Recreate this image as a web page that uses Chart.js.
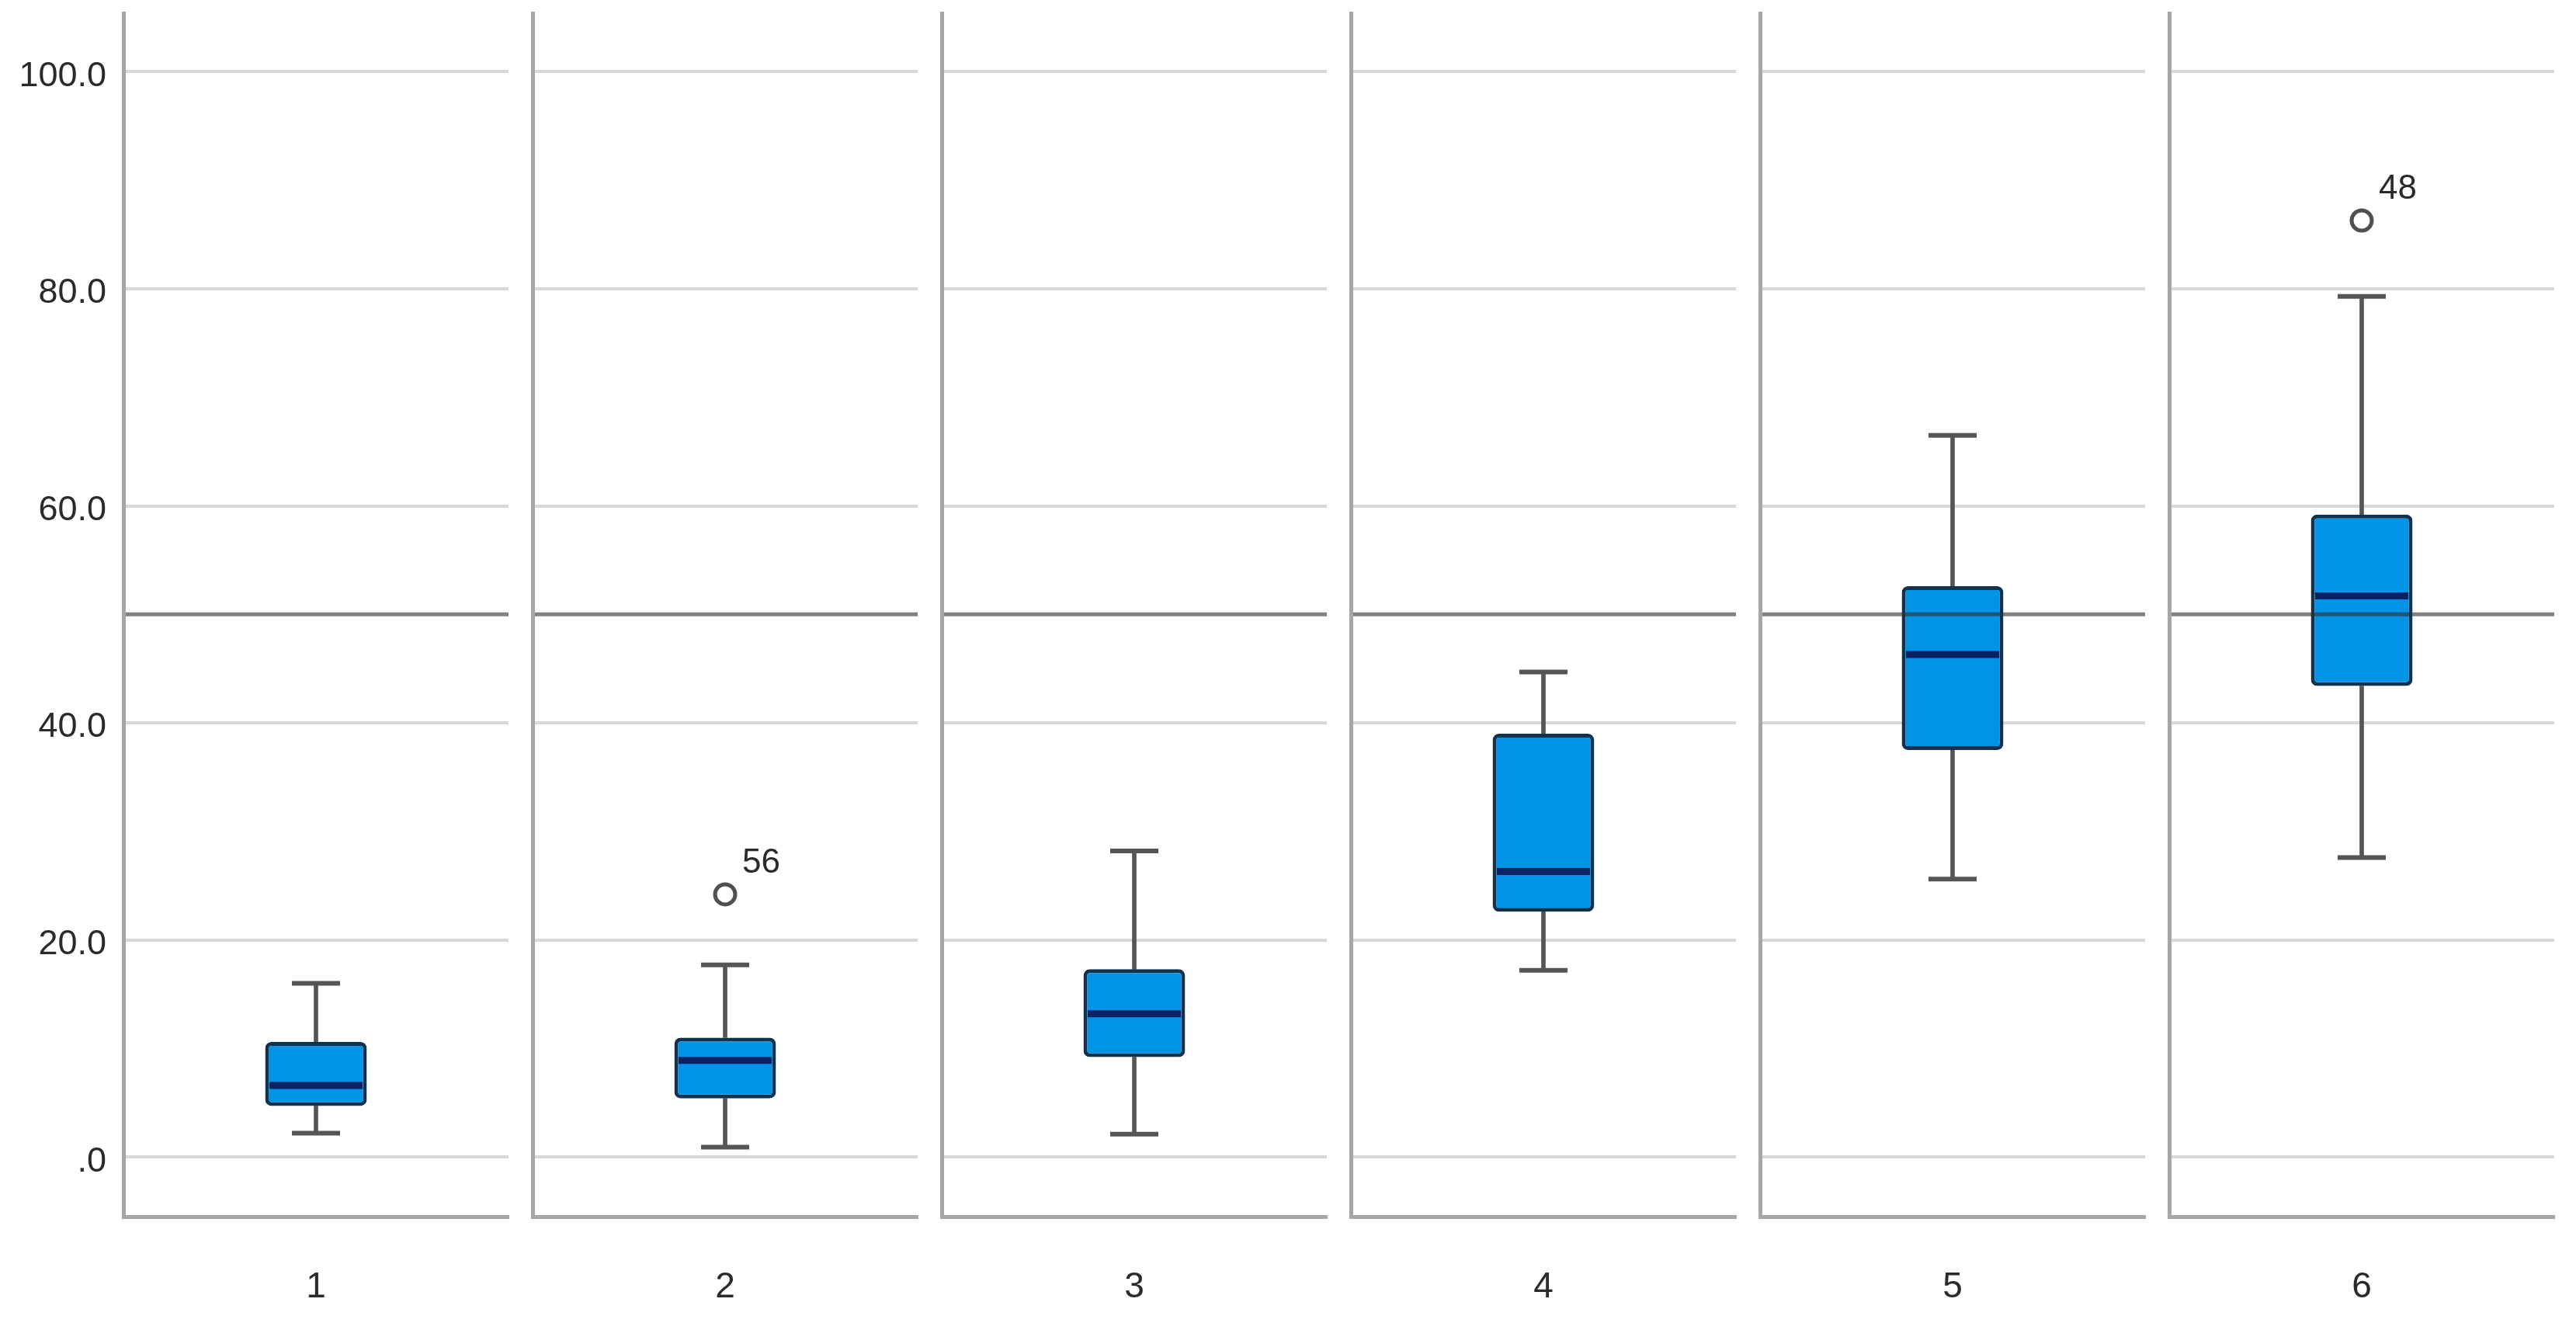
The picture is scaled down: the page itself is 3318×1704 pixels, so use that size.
<!DOCTYPE html>
<html>
<head>
<meta charset="utf-8">
<script src="https://cdn.jsdelivr.net/npm/chart.js@4.4.0/dist/chart.umd.min.js"></script>
<style>
html, body { margin: 0; padding: 0; background: #ffffff; width: 3318px; height: 1704px; overflow: hidden; }
canvas { position: absolute; left: 0; top: 0; }
</style>
</head>
<body>
<div id="wrap"></div>
<script>
// ---- data ----
const CATEGORIES = ['1', '2', '3', '4', '5', '6'];
const WHISKER_LOW = [2.2, 0.9, 2.1, 17.2, 25.6, 27.6];
const Q1 = [4.7, 5.4, 9.2, 22.6, 37.5, 43.4];
const MEDIAN = [6.6, 8.9, 13.2, 26.3, 46.3, 51.7];
const Q3 = [10.6, 11.0, 17.3, 39.0, 52.6, 59.2];
const WHISKER_HIGH = [16.0, 17.7, 28.2, 44.7, 66.5, 79.3];
const OUTLIER_VALUES = [null, 24.2, null, null, null, 86.3];
const OUTLIER_IDS = [null, '56', null, null, null, '48'];
const Y_TICKS = [0, 20, 40, 60, 80, 100];
const Y_TICK_LABELS = ['.0', '20.0', '40.0', '60.0', '80.0', '100.0'];
const REFERENCE_VALUE = 50;
const Y_MIN = -5.5;
const Y_MAX = 105.4;

// ---- layout ----
const W = 3318, H = 1704;
const PANEL_LEFT0 = 159, PANEL_PITCH = 527, PANEL_W = 496;
const TOP = 17, X_AXIS_H = 137;
const FONT = '"Liberation Sans", Arial, sans-serif';

const BOX_FILL = 'rgb(0,148,230)';
const BOX_EDGE = '#10324f';
const MEDIAN_COLOR = '#0a2264';
const WHISKER_COLOR = '#555555';
const FRAME_COLOR = '#a6a6a6';
const GRID_COLOR = '#d8d8d8';
const TEXT_COLOR = '#2a2a2a';

const overlayPlugin = {
  id: 'overlay',
  afterDatasetsDraw(chart, args, opts) {
    const { ctx, chartArea: a, scales: { x, y } } = chart;
    const i = opts.index;
    ctx.save();
    const yy = y.getPixelForValue(REFERENCE_VALUE);
    ctx.strokeStyle = 'rgba(45,45,45,0.6)';
    ctx.lineWidth = 5;
    ctx.beginPath();
    ctx.moveTo(a.left + 3, yy);
    ctx.lineTo(a.right, yy);
    ctx.stroke();
    if (OUTLIER_VALUES[i] !== null) {
      const px = x.getPixelForValue(0);
      const py = y.getPixelForValue(OUTLIER_VALUES[i]);
      ctx.fillStyle = TEXT_COLOR;
      ctx.font = '44px ' + FONT;
      ctx.textAlign = 'left';
      ctx.textBaseline = 'middle';
      ctx.fillText(OUTLIER_IDS[i], px + 22, py - 40);
    }
    ctx.restore();
  }
};

const wrap = document.getElementById('wrap');

CATEGORIES.forEach((cat, i) => {
  const canvas = document.createElement('canvas');
  canvas.width = W;
  canvas.height = H;
  wrap.appendChild(canvas);
  const left = PANEL_LEFT0 + i * PANEL_PITCH;
  const yAxisW = i === 0 ? PANEL_LEFT0 : 0;

  new Chart(canvas, {
    type: 'bar',
    data: {
      labels: [cat],
      datasets: [
        {
          type: 'line', data: [OUTLIER_VALUES[i]], showLine: false,
          pointStyle: 'circle', pointRadius: 13, pointBorderWidth: 5,
          pointBackgroundColor: '#ffffff', pointBorderColor: '#505050',
          borderColor: '#505050', order: 1
        },
        {
          type: 'line', data: [MEDIAN[i]], showLine: false,
          pointStyle: 'line', pointRadius: 60, pointBorderWidth: 9,
          pointBorderColor: MEDIAN_COLOR, borderColor: MEDIAN_COLOR, order: 2
        },
        {
          type: 'bar', data: [[Q1[i], Q3[i]]], grouped: false,
          backgroundColor: BOX_FILL, borderColor: BOX_EDGE, borderWidth: 5,
          borderRadius: 8, borderSkipped: false,
          barPercentage: 0.264, categoryPercentage: 1, order: 3
        },
        {
          type: 'line', data: [WHISKER_LOW[i]], showLine: false,
          pointStyle: 'line', pointRadius: 31, pointBorderWidth: 6,
          pointBorderColor: WHISKER_COLOR, borderColor: WHISKER_COLOR, order: 4
        },
        {
          type: 'line', data: [WHISKER_HIGH[i]], showLine: false,
          pointStyle: 'line', pointRadius: 31, pointBorderWidth: 6,
          pointBorderColor: WHISKER_COLOR, borderColor: WHISKER_COLOR, order: 4
        },
        {
          type: 'bar', data: [[WHISKER_LOW[i], Q1[i]]], grouped: false,
          backgroundColor: WHISKER_COLOR, barThickness: 5, order: 5
        },
        {
          type: 'bar', data: [[Q3[i], WHISKER_HIGH[i]]], grouped: false,
          backgroundColor: WHISKER_COLOR, barThickness: 5, order: 5
        }
      ]
    },
    options: {
      responsive: false,
      devicePixelRatio: 1,
      animation: false,
      layout: {
        autoPadding: false,
        padding: { left: left - yAxisW, right: W - (left + PANEL_W), top: TOP, bottom: 0 }
      },
      plugins: {
        legend: { display: false },
        tooltip: { enabled: false },
        overlay: { index: i }
      },
      scales: {
        x: {
          offset: true,
          afterFit: (s) => { s.height = X_AXIS_H; s.paddingLeft = 0; s.paddingRight = 0; },
          grid: { display: false, drawTicks: false },
          border: { display: true, color: FRAME_COLOR, width: 5 },
          ticks: { color: TEXT_COLOR, font: { size: 46, family: FONT }, padding: 64 }
        },
        y: {
          min: Y_MIN,
          max: Y_MAX,
          afterBuildTicks: (s) => { s.ticks = Y_TICKS.map(v => ({ value: v })); },
          afterFit: (s) => { s.width = yAxisW; s.paddingTop = 0; s.paddingBottom = 0; },
          grid: { color: GRID_COLOR, lineWidth: 4, drawTicks: false },
          border: { display: true, color: FRAME_COLOR, width: 5 },
          ticks: {
            display: i === 0,
            autoSkip: false,
            padding: 22,
            labelOffset: 6,
            color: TEXT_COLOR,
            font: { size: 45, family: FONT },
            callback: (v) => Y_TICK_LABELS[Y_TICKS.indexOf(v)]
          }
        }
      }
    },
    plugins: [overlayPlugin]
  });
});
</script>
</body>
</html>
